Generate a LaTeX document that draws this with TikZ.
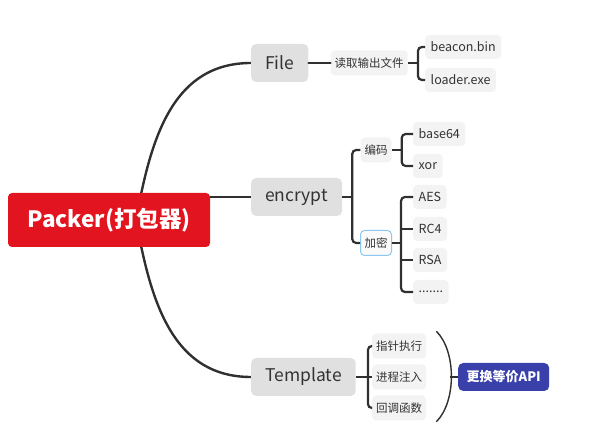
\documentclass[tikz,border=0pt]{standalone}
\usepackage{fontspec}
\setmainfont{Noto Sans CJK SC}
\usetikzlibrary{positioning}
\usetikzlibrary{backgrounds}
\definecolor{packred}{RGB}{226,20,31}
\definecolor{topicgray}{RGB}{224,224,224}
\definecolor{leafgray}{RGB}{243,243,243}
\definecolor{ink}{RGB}{51,51,51}
\definecolor{apiblue}{RGB}{58,64,170}
\definecolor{selblue}{RGB}{140,200,240}
\tikzset{
  box/.style            = { rectangle, text=ink, align=center },
  rootbox/.style        = { box, fill=packred, text=white, rounded corners=4pt,
                            minimum width=202pt, minimum height=54pt,
                            font=\fontsize{22.5}{26}\selectfont\bfseries },
  topic/.style          = { box, fill=topicgray, rounded corners=5pt, anchor=west,
                            inner xsep=14pt, minimum height=38pt,
                            font=\fontsize{17.5}{20}\selectfont },
  sub/.style            = { box, fill=leafgray, rounded corners=4pt,
                            inner xsep=4pt, minimum height=25pt,
                            font=\fontsize{11.5}{14}\selectfont },
  leaf/.style           = { box, fill=leafgray, rounded corners=4pt, anchor=west,
                            inner xsep=5.5pt, minimum height=24pt,
                            font=\fontsize{12.5}{15}\selectfont },
  summary/.style        = { box, fill=apiblue, text=white, rounded corners=5pt, anchor=west,
                            minimum width=91pt, minimum height=28pt,
                            font=\fontsize{13}{15}\selectfont\bfseries },
  branch/.style         = { line width=2.4pt, draw=ink!95!black, line cap=round },
  bracket/.style        = { line width=2.2pt, draw=ink!95!black, rounded corners=4pt },
  brace/.style          = { line width=1.4pt, draw=ink!95!black }
}
\begin{document}
\begin{tikzpicture}[x=1pt, y=1pt]
  \useasboundingbox (0,0) rectangle (597,444);

  \node (packer)   [rootbox]          at (109,224) {Packer(打包器)};
  \node (file)     [topic]            at (251,381) {File};
  \node (encrypt)  [topic]            at (251,247) {encrypt};
  \node (template) [topic]            at (251,67)  {Template};

  % File
  \node (readout)  [sub,right=22pt of file] {读取输出文件};
  \node (beacon)   [leaf] at (425,397) {beacon.bin};
  \node (loader)   [leaf] at (425,364) {loader.exe};

  % encrypt
  \node (encode)   [sub] at (376,294) {编码};
  \node (cipher)   [sub,draw=selblue,line width=1pt,fill=white!60!leafgray] at (376,201) {加密};
  \node (base)     [leaf] at (413,310) {base64};
  \node (xor)      [leaf] at (413,278) {xor};
  \node (aes)      [leaf] at (413,247) {AES};
  \node (rcfour)   [leaf] at (413,215) {RC4};
  \node (rsa)      [leaf] at (413,184) {RSA};
  \node (more)     [leaf] at (413,152) {.......};

  % Template
  \node (pointer)  [sub,anchor=west] at (372,98) {指针执行};
  \node (inject)   [sub,anchor=west] at (372,67) {进程注入};
  \node (callback) [sub,anchor=west] at (372,36) {回调函数};
  \node (api)      [summary] at (458,67) {更换等价API};

  \begin{pgfonlayer}{background}
    \draw [branch] ([xshift=27pt]packer.center) .. controls +(14,76) and +(-81,0) .. (file.west);
    \draw [branch] ([xshift=27pt]packer.center) .. controls +(14,-76) and +(-81,0) .. (template.west);
    \draw [branch] (encrypt.west -| packer.east) -- (encrypt.west);
  \end{pgfonlayer}

  \draw [branch]  (file.east) -- (readout.west);

  \coordinate (filefork)  at ([xshift=10pt]readout.east);
  \draw [bracket] (readout.east) -- (filefork);
  \draw [bracket] (beacon.west) -| (filefork) |- (loader.west);

  \coordinate (encfork)   at ([xshift=10pt]encrypt.east);
  \draw [bracket] (encrypt.east) -- (encfork);
  \draw [bracket] (encode.west) -| (encfork) |- (cipher.west);

  \coordinate (codefork)  at ([xshift=10pt]encode.east);
  \draw [bracket] (encode.east) -- (codefork);
  \draw [bracket] (base.west) -| (codefork) |- (xor.west);

  \coordinate (ciphfork)  at ([xshift=9pt]cipher.east);
  \draw [bracket] (cipher.east) -- (ciphfork);
  \draw [bracket] (aes.west) -| (ciphfork) |- (more.west);
  \draw [bracket] (ciphfork |- rcfour.west) -- (rcfour.west);
  \draw [bracket] (ciphfork |- rsa.west) -- (rsa.west);

  \coordinate (tempfork)  at ([xshift=12pt]template.east);
  \draw [bracket] (template.east) -- (tempfork);
  \draw [bracket] (pointer.west) -| (tempfork) |- (callback.west);
  \draw [bracket] (tempfork |- inject.west) -- (inject.west);

  % summary brace
  \coordinate (bracetop) at ([shift={(10pt,2pt)}]pointer.north east);
  \coordinate (bracebot) at ([shift={(10pt,-1pt)}]callback.south east);
  \coordinate (bracemid) at ([xshift=-8pt]api.west);
  \draw [brace] (bracetop) .. controls +(20,-20) and +(20,20) .. (bracebot);
  \draw [brace] (bracemid) -- (api.west);
\end{tikzpicture}
\end{document}
